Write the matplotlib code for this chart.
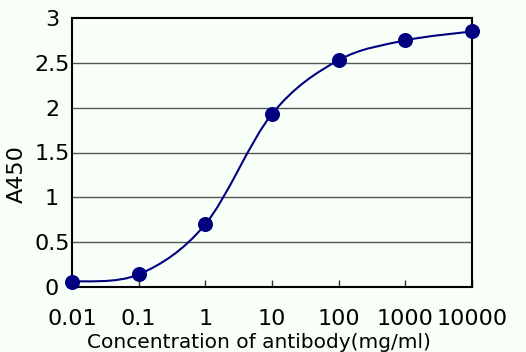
import numpy as np
import matplotlib
matplotlib.use("Agg")
import matplotlib.pyplot as plt
from matplotlib.path import Path
from matplotlib.patches import PathPatch

# Data
concentration = [0.01, 0.1, 1, 10, 100, 1000, 10000]
a450 = [0.06, 0.14, 0.70, 1.93, 2.53, 2.75, 2.85]
x_ticks = [0.01, 0.1, 1, 10, 100, 1000, 10000]
x_tick_labels = ["0.01", "0.1", "1", "10", "100", "1000", "10000"]
y_ticks = [0, 0.5, 1, 1.5, 2, 2.5, 3]
y_tick_labels = ["0", "0.5", "1", "1.5", "2", "2.5", "3"]

navy = "#000080"
bg = "#F8FFF8"

fig = plt.figure(figsize=(5.26, 3.52), dpi=100, facecolor=bg)
ax = fig.add_axes([72/526, (352-287)/352, 400/526, 269/352])
ax.set_facecolor(bg)
ax.set_xscale("log")
ax.set_xlim(0.01, 10000)
ax.set_ylim(0, 3)

# smoothed line (Catmull-Rom style Bezier in log-x space, like a spreadsheet smoothed line)
lx = np.log10(concentration)
yy = np.array(a450)
n = len(lx)
verts = [(lx[0], yy[0])]
codes = [Path.MOVETO]
for i in range(n - 1):
    p0 = np.array([lx[max(i-1, 0)], yy[max(i-1, 0)]])
    p1 = np.array([lx[i], yy[i]])
    p2 = np.array([lx[i+1], yy[i+1]])
    p3 = np.array([lx[min(i+2, n-1)], yy[min(i+2, n-1)]])
    c1 = p1 + (p2 - p0) / 6
    c2 = p2 - (p3 - p1) / 6
    verts += [tuple(c1), tuple(c2), tuple(p2)]
    codes += [Path.CURVE4] * 3
verts = [(10**vx, vy) for vx, vy in verts]
ax.add_patch(PathPatch(Path(verts, codes), facecolor="none", edgecolor=navy,
                       lw=1.5, zorder=3, clip_on=False))

ax.plot(concentration, a450, "o", color=navy, markersize=9.8, zorder=4, clip_on=False)

for y in y_ticks[1:-1]:
    ax.axhline(y, color="#555555", lw=1.0, zorder=1)

ax.set_xticks(x_ticks)
ax.set_xticklabels(x_tick_labels, fontsize=16)
ax.xaxis.set_minor_locator(matplotlib.ticker.NullLocator())
ax.tick_params(axis="x", direction="in", length=5, width=1, pad=16, color="#333333")
ax.set_yticks(y_ticks)
ax.set_yticklabels(y_tick_labels, fontsize=16)
ax.tick_params(axis="y", length=0, pad=14.4)
for lbl in ax.get_yticklabels():
    lbl.set_horizontalalignment("center")

for s in ax.spines.values():
    s.set_color("black")
    s.set_linewidth(1.5)

ax.set_xlabel("Concentration of antibody(mg/ml)", fontsize=14.5, va="baseline")
ax.xaxis.set_label_coords((258.5-72)/400, (287-348)/269)
ax.set_ylabel("A450", fontsize=16, va="center")
ax.yaxis.set_label_coords((17-72)/400, (287-174)/269)

fig.savefig("out.png", dpi=100, facecolor=bg)
